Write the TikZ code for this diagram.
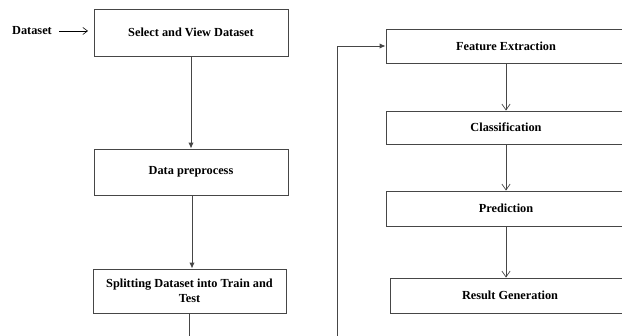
\documentclass[tikz,border=0pt]{standalone}
\usepackage{fontspec}
\setmainfont{Liberation Serif}
\definecolor{lineGray}{RGB}{70,70,70}
\usetikzlibrary{arrows.meta,positioning}

\begin{document}
\begin{tikzpicture}[
		sbox/.style={draw=lineGray, line width=0.8pt, align=center,
			inner sep=0pt, font=\fontsize{10.5}{12.5}\selectfont\bfseries},
		larrow/.style={-{Latex[length=5pt,width=4.5pt]}, line width=0.8pt, lineGray},
		rarrow/.style={-{Straight Barb[length=5pt,width=7pt]}, line width=0.6pt, lineGray},
		tlab/.style={font=\fontsize{10.5}{12.5}\selectfont\bfseries}
	]
		\useasboundingbox (0,0) rectangle (18.66,-10.05);
		\clip (0,0) rectangle (18.66,-10.05);
		% left column
		\node[sbox, minimum width=5.82cm, minimum height=1.41cm] (view) at (5.73,-0.975) {Select and View Dataset};
		\node[sbox, minimum width=5.82cm, minimum height=1.38cm] (prep) at (5.73,-5.16) {Data preprocess};
		\node[sbox, minimum width=5.79cm, minimum height=1.32cm] (split) at (5.685,-8.73) {Splitting Dataset into Train and\\Test};
		\node[tlab] (data) at (0.96,-0.93) {Dataset};
		\coordinate (din) at (2.64,-0.93);
		% right column
		\node[sbox, minimum width=7.2cm, minimum height=1.02cm] (feat) at (15.18,-1.38) {Feature Extraction};
		\node[sbox, minimum width=7.2cm, minimum height=0.99cm] (cls) at (15.18,-3.825) {Classification};
		\node[sbox, minimum width=7.2cm, minimum height=1.05cm] (pred) at (15.18,-6.255) {Prediction};
		\node[sbox, minimum width=7.2cm, minimum height=1.05cm] (res) at (15.3,-8.865) {Result Generation};
		\coordinate (loop) at (10.11,-11);
		% connectors
		\draw[-{Straight Barb[length=4pt,width=6pt]}, line width=0.5pt] (data.east) ++(0.1,0) -- (din);
		\draw[larrow] (view.south) -- (prep.north);
		\draw[larrow] ([xshift=0.03cm]prep.south) -- ([xshift=0.03cm]prep.south |- split.north);
		\draw[larrow] (split.south) |- (loop) |- (feat.west);
		\draw[rarrow] (feat.south) -- (cls.north);
		\draw[rarrow] (cls.south) -- (pred.north);
		\draw[rarrow] (pred.south) -- (pred.south |- res.north);
	\end{tikzpicture}
\end{document}
